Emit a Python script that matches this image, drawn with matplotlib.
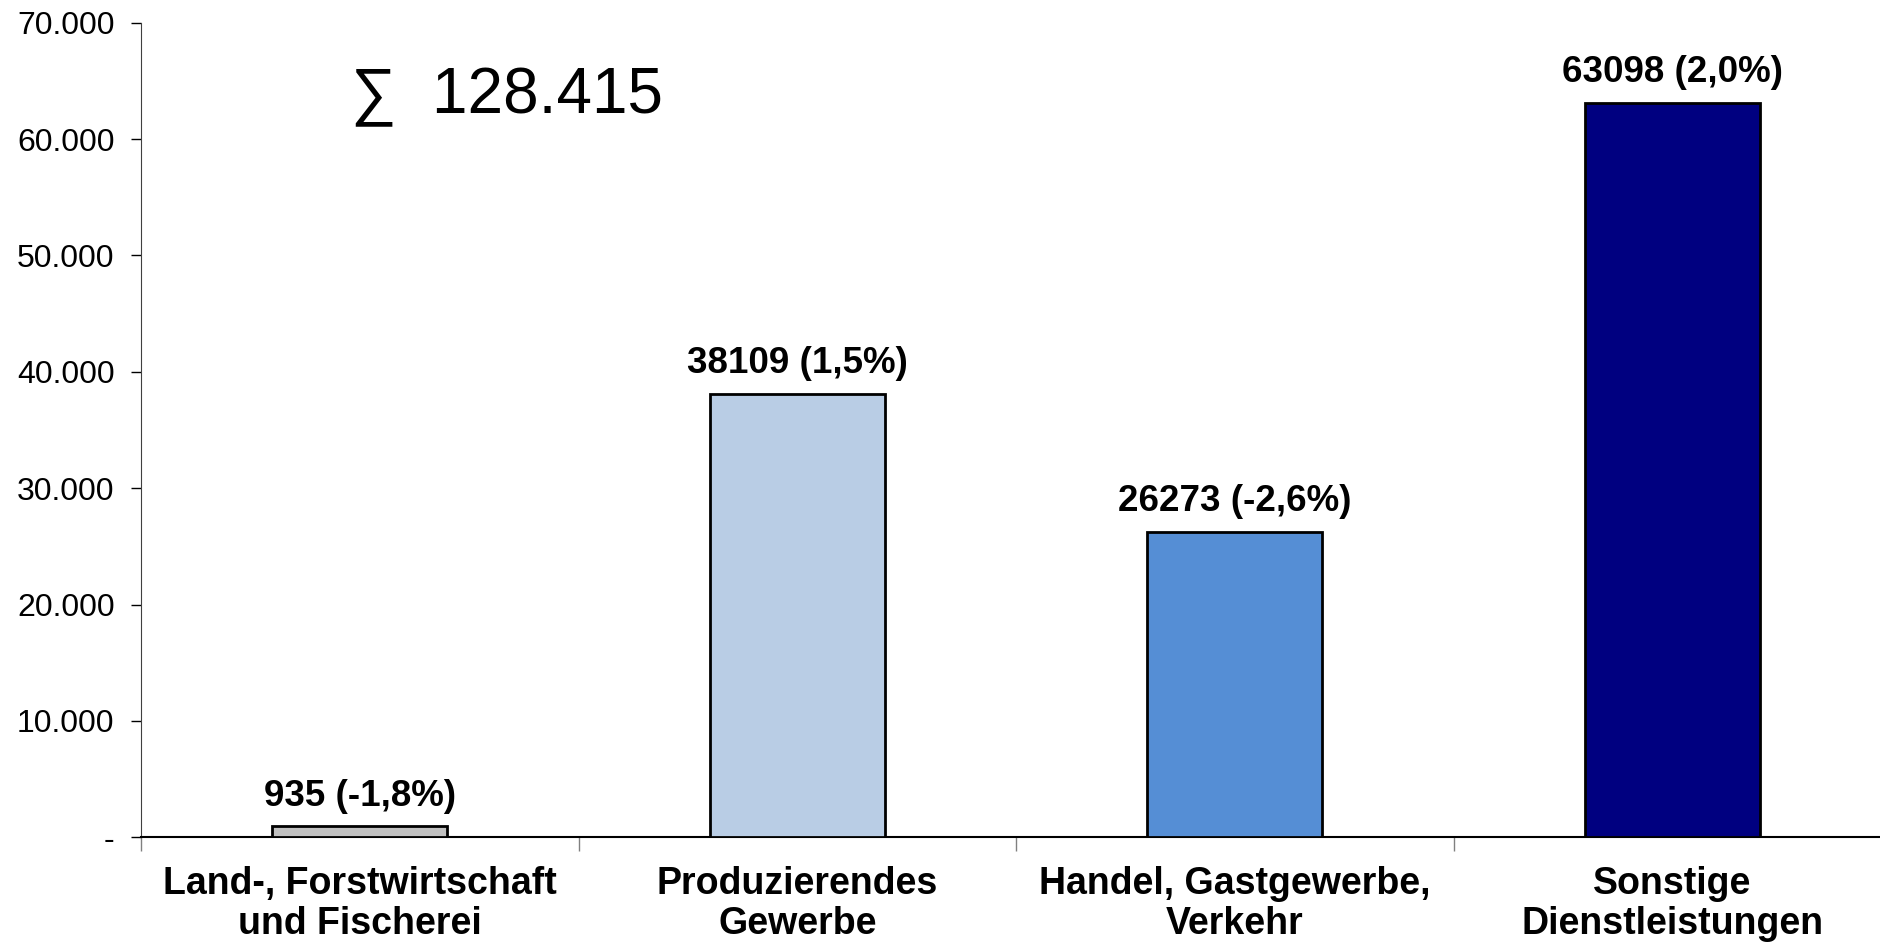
import matplotlib.pyplot as plt
import numpy as np

plt.rcParams['font.family'] = ['Liberation Sans', 'DejaVu Sans']

# data
categories = ['Land-, Forstwirtschaft\nund Fischerei',
              'Produzierendes\nGewerbe',
              'Handel, Gastgewerbe,\nVerkehr',
              'Sonstige\nDienstleistungen']
values = [935, 38109, 26273, 63098]
changes = ['-1,8%', '1,5%', '-2,6%', '2,0%']
total_label = '128.415'
y_ticks = [0, 10000, 20000, 30000, 40000, 50000, 60000, 70000]
y_tick_labels = ['-', '10.000', '20.000', '30.000', '40.000',
                 '50.000', '60.000', '70.000']

colors = ['#C0C0C0', '#B9CDE5', '#558ED5', '#000080']

fig = plt.figure(figsize=(18.8, 9.44), dpi=100)
ax = fig.add_axes([0.075, 0.113, 0.931, 0.863])

x = np.arange(len(values))
ax.bar(x, values, width=0.4, color=colors, edgecolor='black', linewidth=2, zorder=3)

for xi, v, c in zip(x, values, changes):
    ax.annotate('%d (%s)' % (v, c), (xi, v), xytext=(0, 9), textcoords='offset points',
                ha='center', va='bottom', fontsize=26.5, fontweight='bold')

ax.text(0.12, 0.909, '\u2211  ' + total_label, transform=ax.transAxes,
        fontsize=46, ha='left', va='center')

ax.set_xlim(-0.5, len(values) - 0.5)
ax.set_ylim(0, 70000)

ax.set_yticks(y_ticks)
ax.set_yticklabels(y_tick_labels, fontsize=23)
ax.tick_params(axis='y', direction='out', length=7, width=1, pad=12)

# category labels in the middle, tick marks on the boundaries
ax.set_xticks(x)
ax.set_xticklabels(categories, fontsize=27, fontweight='bold', linespacing=1.13)
ax.set_xticks(np.arange(len(values) + 1) - 0.5, minor=True)
ax.tick_params(axis='x', which='major', length=0, pad=21)
ax.tick_params(axis='x', which='minor', direction='out', length=10, width=1, color='#808080')

ax.spines['top'].set_visible(False)
ax.spines['right'].set_visible(False)
ax.spines['left'].set_color('#404040')
ax.spines['bottom'].set_linewidth(1.5)

fig.savefig('out.png', dpi=100)
